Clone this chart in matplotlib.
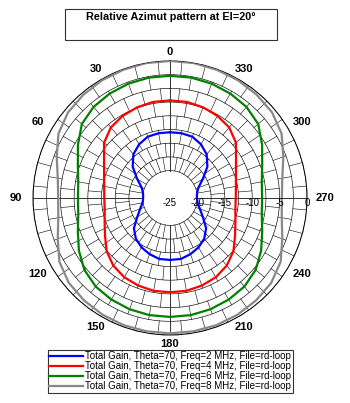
import numpy as np
import matplotlib
matplotlib.use('Agg')
from matplotlib import pyplot as plt
from matplotlib.patches import Rectangle
from matplotlib import transforms

plt.rcParams['font.family'] = ['Liberation Sans', 'DejaVu Sans']

# azimuth angles (deg, counter-clockwise from top), one half of the symmetric pattern
half_angles = np.arange(0, 190, 10)
# relative gain in dB for 0..180 deg
gain_2mhz = [-13.0, -13.0, -13.1, -13.7, -14.6, -16.1, -18.1, -19.5, -20.0, -20.1,
             -19.9, -19.2, -18.1, -16.4, -15.3, -14.6, -14.1, -13.7, -13.7]
gain_4mhz = [-7.2, -7.2, -7.4, -7.7, -8.2, -9.3, -11.1, -12.2, -12.8, -13.0,
             -12.9, -12.3, -11.3, -9.9, -8.9, -8.3, -8.0, -7.8, -7.8]
gain_6mhz = [-2.7, -2.7, -2.8, -3.0, -3.3, -4.0, -5.6, -7.1, -8.0, -8.2,
             -8.0, -7.1, -5.8, -4.6, -3.9, -3.6, -3.4, -3.3, -3.3]
gain_8mhz = [0.0, 0.0, -0.1, -0.2, -0.4, -0.7, -1.5, -3.0, -4.2, -4.6,
             -4.3, -3.2, -1.7, -0.9, -0.6, -0.4, -0.3, -0.3, -0.3]

series_labels = ['Total Gain, Theta=70, Freq=2 MHz, File=rd-loop',
                 'Total Gain, Theta=70, Freq=4 MHz, File=rd-loop',
                 'Total Gain, Theta=70, Freq=6 MHz, File=rd-loop',
                 'Total Gain, Theta=70, Freq=8 MHz, File=rd-loop']
series_colors = ['#0000ff', '#ff0000', '#008000', '#888888']

angle_ticks = np.arange(0, 360, 30)
db_ticks = [-25, -20, -15, -10, -5, 0]
db_rings = np.arange(-20, 0.1, 2.5)
db_min = -25


def full_circle(values):
    # mirror 0..180 onto 180..360
    values = np.asarray(values)
    angles = np.concatenate([half_angles, 360 - half_angles[::-1][1:]])
    return np.deg2rad(angles), np.concatenate([values, values[::-1][1:]])


def main():
    fig = plt.figure(figsize=(3.5, 4.03), dpi=100)
    ax = fig.add_axes([0.0943, 0.1687, 0.783, 0.680], projection='polar')
    ax.set_theta_zero_location('N')
    ax.set_theta_direction(1)
    ax.set_ylim(0, 25)
    ax.grid(False)
    ax.set_xticks([])
    ax.set_yticks([])
    ax.spines['polar'].set_color('black')
    ax.spines['polar'].set_linewidth(0.7)

    # rings
    th = np.linspace(0, 2 * np.pi, 361)
    for db in db_rings:
        ax.plot(th, np.full_like(th, db - db_min), color='black', lw=0.45, zorder=1)
    # spokes in brick pattern
    for k in range(len(db_rings) - 1):
        r0, r1 = db_rings[k] - db_min, db_rings[k + 1] - db_min
        offset = 5 if k % 2 else 0
        for a in np.arange(offset, 360, 10):
            ax.plot([np.deg2rad(a)] * 2, [r0, r1], color='black', lw=0.4, zorder=1)
    for a in range(0, 360, 90):
        ax.plot([np.deg2rad(a)] * 2, [5, 25], color='#333333', lw=0.7, zorder=1)

    for gains, label, color in zip([gain_2mhz, gain_4mhz, gain_6mhz, gain_8mhz],
                                   series_labels, series_colors):
        t, g = full_circle(gains)
        ax.plot(t, g - db_min, color=color, lw=1.6, label=label, zorder=3)

    # angle labels, pushed out a bit more on the sides (wider text)
    for a in angle_ticks:
        r_lab = 26.7 + 1.5 * np.sin(np.deg2rad(a)) ** 2
        ax.text(np.deg2rad(a), r_lab, str(a), ha='center', va='center',
                fontsize=8, fontweight='bold')

    trans = transforms.offset_copy(ax.transData, fig=fig, x=0, y=-5, units='dots')
    for db in db_ticks:
        ax.text(np.deg2rad(270), db - db_min, str(db), ha='center', va='center',
                fontsize=7, transform=trans, zorder=4)

    # title box
    fig.add_artist(Rectangle((65 / 350, 1 - 40 / 403), 212 / 350, 31 / 403,
                             transform=fig.transFigure, fill=False,
                             edgecolor='#333333', lw=0.8))
    fig.text(171 / 350, 1 - 17 / 403, 'Relative Azimut pattern at El=20°',
             ha='center', va='center', fontsize=7.8, fontweight='bold')

    leg = fig.legend(loc='upper left', bbox_to_anchor=(48 / 350, 1 - 350 / 403),
                     fontsize=7, frameon=True, fancybox=False, edgecolor='black',
                     handlelength=3.4, handletextpad=0.3, labelspacing=0.0,
                     borderpad=0.15, borderaxespad=0)
    leg.get_frame().set_linewidth(0.8)

    fig.savefig('out.png', dpi=100)


if __name__ == '__main__':
    main()
